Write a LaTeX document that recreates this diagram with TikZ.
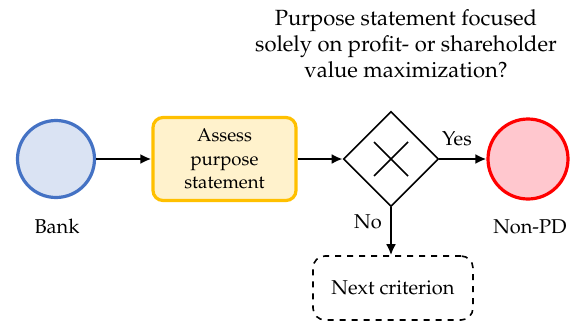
\documentclass[tikz,border=0pt]{standalone}
\usepackage[T1]{fontenc}
\usepackage{mathpazo}
\usepackage{xcolor}
\usetikzlibrary{shapes,arrows.meta,positioning}

\definecolor{bankline}{HTML}{4472C4}
\definecolor{bankfill}{HTML}{DAE3F3}
\definecolor{taskline}{HTML}{FFC000}
\definecolor{taskfill}{HTML}{FFF2CC}
\definecolor{endline}{HTML}{FF0000}
\definecolor{endfill}{HTML}{FFC7CE}

\begin{document}
\begin{tikzpicture}[x=0.5pt,y=-0.5pt,
  event/.style={circle,line width=1.6pt,minimum size=#1,inner sep=0pt},
  task/.style={rectangle,rounded corners=5pt,line width=1.6pt,draw=taskline,fill=taskfill,
    minimum width=71.5pt,minimum height=41.5pt,align=center,font=\fontsize{9.3}{11.7}\selectfont},
  gateway/.style={diamond,draw,line width=0.8pt,minimum width=47.5pt,minimum height=47.5pt,inner sep=0pt},
  pending/.style={rectangle,rounded corners=6pt,draw,dashed,line width=0.8pt,
    minimum width=80pt,minimum height=32pt},
  flow/.style={-{Latex[length=5.5pt,width=5pt]},line width=1.2pt}]
\useasboundingbox (0,0) rectangle (573,322);

% start, task, gateway, end
\node[event=38.5pt,draw=bankline,fill=bankfill] (bank) at (56,159) {};
\node[task] (assess) at (224.5,159) {Assess\\purpose\\statement};
\node[gateway] (gate) at (391,159) {};
\node[event=40pt,draw=endline,fill=endfill] (nonpd) at (528,159) {};
\node[pending] (next) at (393,288) {Next criterion};

% exclusive marker
\draw[line width=0.8pt] (gate.center) ++(-17,-17) -- ++(34,34)
  (gate.center) ++(17,-17) -- ++(-34,34);

% labels
\node (banklbl) at (57,226) {Bank};
\node (nonpdlbl) at (530,227) {Non-PD};
\node[align=center,font=\fontsize{11}{13}\selectfont] (question) at (406,44)
  {Purpose statement focused\\solely on profit- or shareholder\\value maximization?};
\node (yes) at (457,139) {Yes};
\node (no) at (368,222) {No};

% sequence flows
\draw[flow] (bank) -- (assess);
\draw[flow] (assess) -- (gate);
\draw[flow] (gate) -- (nonpd);
\draw[flow] (gate.south) -- (gate.south |- next.north);
\end{tikzpicture}
\end{document}
